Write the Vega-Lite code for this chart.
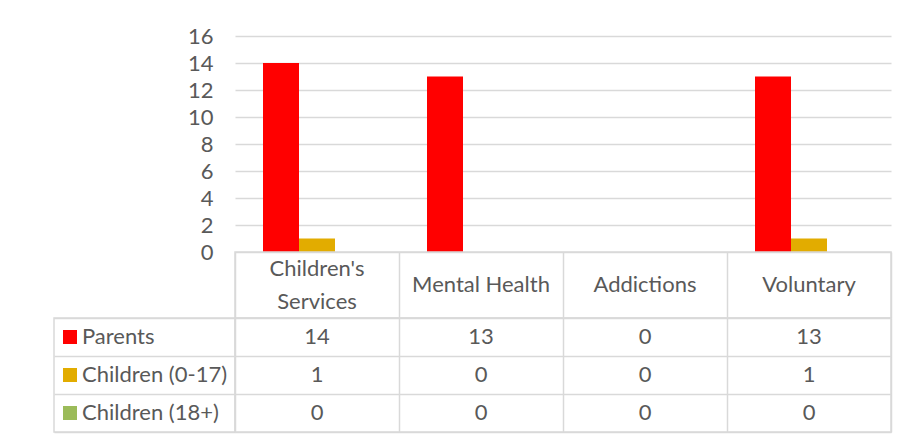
{
  "$schema": "https://vega.github.io/schema/vega-lite/v6.json",
  "padding": {"left": 53, "top": 25, "right": 18, "bottom": 11},
  "background": "white",
  "config": {
    "font": "Lato",
    "view": {"stroke": "#d9d9d9", "strokeWidth": 1.5},
    "concat": {"spacing": 0}
  },
  "datasets": {
    "counts": [
      {"category": "Children's Services", "series": "Parents", "value": 14},
      {"category": "Children's Services", "series": "Children (0-17)", "value": 1},
      {"category": "Children's Services", "series": "Children (18+)", "value": 0},
      {"category": "Mental Health", "series": "Parents", "value": 13},
      {"category": "Mental Health", "series": "Children (0-17)", "value": 0},
      {"category": "Mental Health", "series": "Children (18+)", "value": 0},
      {"category": "Addictions", "series": "Parents", "value": 0},
      {"category": "Addictions", "series": "Children (0-17)", "value": 0},
      {"category": "Addictions", "series": "Children (18+)", "value": 0},
      {"category": "Voluntary", "series": "Parents", "value": 13},
      {"category": "Voluntary", "series": "Children (0-17)", "value": 1},
      {"category": "Voluntary", "series": "Children (18+)", "value": 0}
    ],
    "categoryLines": [
      {"category": "Children's Services", "line": "top", "text": "Children's"},
      {"category": "Children's Services", "line": "bottom", "text": "Services"},
      {"category": "Mental Health", "line": "mid", "text": "Mental Health"},
      {"category": "Addictions", "line": "mid", "text": "Addictions"},
      {"category": "Voluntary", "line": "mid", "text": "Voluntary"}
    ],
    "series": [
      {"series": "Parents"},
      {"series": "Children (0-17)"},
      {"series": "Children (18+)"}
    ]
  },
  "columns": 2,
  "align": "each",
  "bounds": "flush",
  "spacing": 0,
  "resolve": {"scale": {"x": "independent", "y": "independent"}},
  "concat": [
    {
      "width": 181, "height": 216,
      "view": {"stroke": null},
      "data": {"values": []},
      "mark": "text",
      "encoding": {}
    },
    {
      "width": 656, "height": 216,
      "view": {"stroke": null},
      "data": {"name": "counts"},
      "mark": {"type": "bar"},
      "encoding": {
        "x": {
          "field": "category", "type": "nominal",
          "sort": ["Children's Services", "Mental Health", "Addictions", "Voluntary"],
          "scale": {"paddingInner": 0.3415, "paddingOuter": 0.17075},
          "axis": null
        },
        "xOffset": {
          "field": "series", "type": "nominal",
          "sort": ["Parents", "Children (0-17)", "Children (18+)"],
          "scale": {"paddingInner": 0, "paddingOuter": 0}
        },
        "y": {
          "field": "value", "type": "quantitative",
          "scale": {"domain": [0, 16], "nice": false},
          "axis": {
            "values": [0, 2, 4, 6, 8, 10, 12, 14, 16],
            "title": null, "domain": false, "ticks": false,
            "grid": true, "gridColor": "#d9d9d9", "gridWidth": 1.5,
            "labelFontSize": 22, "labelColor": "#595959", "labelPadding": 22
          }
        },
        "color": {
          "field": "series", "type": "nominal",
          "scale": {"domain": ["Parents", "Children (0-17)", "Children (18+)"], "range": ["#ff0000", "#e2ac00", "#9bbb59"]},
          "legend": null
        }
      }
    },
    {
      "width": 181, "height": 66,
      "view": {"stroke": null},
      "data": {"values": []},
      "mark": "text",
      "encoding": {}
    },
    {
      "width": 656, "height": 66,
      "data": {"name": "categoryLines"},
      "mark": {"type": "text", "fontSize": 22, "color": "#595959"},
      "encoding": {
        "x": {
          "field": "category", "type": "nominal",
          "sort": ["Children's Services", "Mental Health", "Addictions", "Voluntary"],
          "scale": {"paddingInner": 0, "paddingOuter": 0},
          "axis": {"title": null, "labels": false, "ticks": false, "domain": false, "grid": true, "tickBand": "extent", "gridColor": "#d9d9d9", "gridWidth": 1.5}
        },
        "y": {
          "field": "line", "type": "ordinal",
          "sort": ["top", "mid", "bottom"],
          "scale": {"type": "point", "padding": 1.2},
          "axis": null
        },
        "text": {"field": "text", "type": "nominal"}
      }
    },
    {
      "width": 181, "height": 114,
      "data": {"name": "series"},
      "encoding": {
        "y": {
          "field": "series", "type": "nominal",
          "sort": ["Parents", "Children (0-17)", "Children (18+)"],
          "scale": {"paddingInner": 0, "paddingOuter": 0},
          "axis": {"title": null, "labels": false, "ticks": false, "domain": false, "grid": true, "tickBand": "extent", "gridColor": "#d9d9d9", "gridWidth": 1.5}
        }
      },
      "layer": [
        {
          "mark": {"type": "point", "shape": "square", "filled": true, "size": 196, "opacity": 1, "xOffset": -74.5},
          "encoding": {
            "color": {
              "field": "series", "type": "nominal",
              "scale": {"domain": ["Parents", "Children (0-17)", "Children (18+)"], "range": ["#ff0000", "#e2ac00", "#9bbb59"]},
              "legend": null
            }
          }
        },
        {
          "mark": {"type": "text", "align": "left", "dx": -62.5, "fontSize": 22, "color": "#595959"},
          "encoding": {"text": {"field": "series", "type": "nominal"}}
        }
      ]
    },
    {
      "width": 656, "height": 114,
      "data": {"name": "counts"},
      "mark": {"type": "text", "fontSize": 22, "color": "#595959"},
      "encoding": {
        "x": {
          "field": "category", "type": "nominal",
          "sort": ["Children's Services", "Mental Health", "Addictions", "Voluntary"],
          "scale": {"paddingInner": 0, "paddingOuter": 0},
          "axis": {"title": null, "labels": false, "ticks": false, "domain": false, "grid": true, "tickBand": "extent", "gridColor": "#d9d9d9", "gridWidth": 1.5}
        },
        "y": {
          "field": "series", "type": "nominal",
          "sort": ["Parents", "Children (0-17)", "Children (18+)"],
          "scale": {"paddingInner": 0, "paddingOuter": 0},
          "axis": {"title": null, "labels": false, "ticks": false, "domain": false, "grid": true, "tickBand": "extent", "gridColor": "#d9d9d9", "gridWidth": 1.5}
        },
        "text": {"field": "value", "type": "quantitative"}
      }
    }
  ]
}
